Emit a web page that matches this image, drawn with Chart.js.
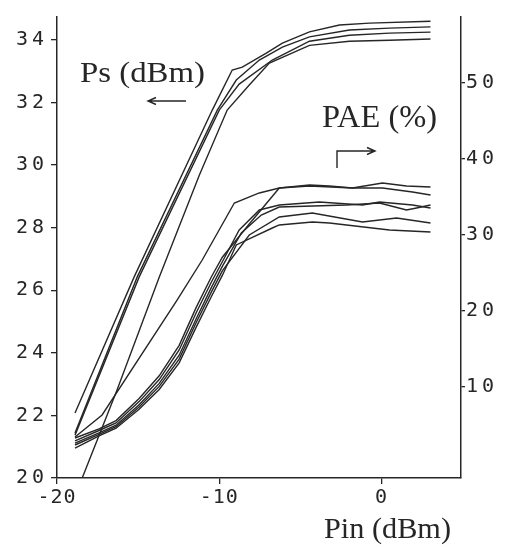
<!DOCTYPE html>
<html><head><meta charset="utf-8">
<script src="https://cdn.jsdelivr.net/npm/chart.js@4.4.1/dist/chart.umd.min.js"></script>
<style>html,body{margin:0;padding:0;background:#fff}</style>
</head><body>
<canvas id="c" width="508" height="552"></canvas>
<script>
// ---- axis ticks ----
const pinTicks = [-20, -10, 0];
const psTicks = [20, 22, 24, 26, 28, 30, 32, 34];
const paeTicks = [10, 20, 30, 40, 50];

// ---- Ps (dBm) curves, left axis ----
const psA_pin = [-18.89, -15.25, -10.43, -9.2, -8.58, -7.1, -6.11, -4.44, -2.59, -0.74, 3.02];
const psA_out = [22.08, 26.42, 31.76, 33.04, 33.13, 33.58, 33.9, 34.26, 34.48, 34.54, 34.6];
const psB_pin = [-18.89, -15.06, -10.12, -8.95, -7.53, -6.11, -4.44, -1.98, 0.49, 3.02];
const psB_out = [21.44, 26.42, 31.76, 32.72, 33.36, 33.77, 34.1, 34.32, 34.38, 34.42];
const psC_pin = [-18.89, -16.3, -13.7, -11.23, -9.51, -8.15, -6.91, -4.44, -1.98, 0.49, 3.02];
const psC_out = [19.42, 22.81, 26.42, 29.68, 31.76, 32.56, 33.26, 33.83, 33.96, 33.99, 34.03];
const psD_pin = [-18.89, -14.94, -10.0, -8.77, -6.73, -4.44, -1.98, 0.49, 3.02];
const psD_out = [21.37, 26.42, 31.76, 32.59, 33.36, 33.96, 34.15, 34.22, 34.25];

// ---- PAE (%) curves, right axis ----
const pae1_pin = [-18.89, -17.22, -12.59, -11.05, -9.07, -7.53, -6.30, -4.44, -3.21, -1.79, 0.06, 1.54, 3.02];
const pae1_val = [3.34, 6.24, 21.37, 26.63, 34.13, 35.45, 36.11, 36.5, 36.37, 36.11, 36.76, 36.37, 36.24];
const pae2_pin = [-18.89, -17.41, -16.36, -14.94, -13.70, -12.47, -11.42, -10.49, -9.81, -8.15, -6.30, -4.44, -1.79, 0.06, 1.91, 3.02];
const pae2_val = [3.21, 4.4, 5.5, 8.4, 11.4, 15.4, 20.4, 24.4, 27.0, 31.37, 36.11, 36.37, 36.11, 36.11, 35.58, 35.18];
const pae3_pin = [-18.89, -17.41, -16.36, -14.94, -13.70, -12.47, -11.42, -10.49, -9.81, -8.77, -7.53, -6.30, -3.83, -1.17, -0.12, 1.91, 3.02];
const pae3_val = [2.82, 4.2, 5.2, 8.0, 10.9, 14.8, 19.7, 23.7, 26.4, 30.58, 33.21, 33.87, 34.26, 33.87, 34.26, 33.87, 33.47];
const pae4_pin = [-18.89, -17.41, -16.36, -14.94, -13.70, -12.47, -11.42, -10.49, -9.81, -8.64, -7.41, -6.30, -2.16, -0.12, 1.54, 2.16, 3.02];
const pae4_val = [2.55, 3.9, 4.9, 7.6, 10.4, 14.1, 18.9, 23.0, 25.8, 30.18, 32.55, 33.6, 33.87, 34.13, 33.21, 33.47, 33.87];
const pae5_pin = [-18.89, -17.41, -16.36, -14.94, -13.70, -12.47, -11.42, -10.49, -9.81, -8.15, -6.30, -4.26, -1.17, 0.93, 3.02];
const pae5_val = [2.29, 3.7, 4.7, 7.3, 10.0, 13.6, 18.4, 22.4, 25.2, 29.92, 32.29, 32.82, 31.63, 32.16, 31.5];
const pae6_pin = [-18.89, -17.41, -16.36, -14.94, -13.70, -12.47, -11.42, -10.49, -9.81, -8.95, -6.73, -6.30, -4.26, -3.21, 0.49, 3.02];
const pae6_val = [1.89, 3.5, 4.5, 7.0, 9.6, 13.1, 17.8, 21.8, 24.6, 28.61, 30.84, 31.24, 31.63, 31.5, 30.58, 30.32];

const INK = '#262626';
const pairs = (xs, ys) => xs.map((x, i) => ({x: x, y: ys[i]}));
function ds(label, xs, ys, axis) {
  return {label: label, data: pairs(xs, ys), yAxisID: axis, borderColor: INK, borderWidth: 1.4,
          pointRadius: 0, tension: 0, fill: false};
}

const datasets = [
  ds('Ps A', psA_pin, psA_out, 'yPs'),
  ds('Ps B', psB_pin, psB_out, 'yPs'),
  ds('Ps C', psC_pin, psC_out, 'yPs'),
  ds('Ps D', psD_pin, psD_out, 'yPs'),
  ds('PAE 1', pae1_pin, pae1_val, 'yPae'),
  ds('PAE 2', pae2_pin, pae2_val, 'yPae'),
  ds('PAE 3', pae3_pin, pae3_val, 'yPae'),
  ds('PAE 4', pae4_pin, pae4_val, 'yPae'),
  ds('PAE 5', pae5_pin, pae5_val, 'yPae'),
  ds('PAE 6', pae6_pin, pae6_val, 'yPae')
];

const tickFont = {family: '"DejaVu Sans Mono", monospace', size: 20};
const gridOpts = {display: true, drawOnChartArea: false, drawTicks: true, color: INK, lineWidth: 1.3};

// per-axis letter spacing for the typewriter-like tick labels
const spacing = {
  id: 'spacing',
  afterUpdate(chart) {
    Object.keys(chart.scales).forEach(id => {
      const s = chart.scales[id];
      if (s._lsPatched) return;
      const orig = s.drawLabels;
      const sp = id === 'x' ? '1px' : '4px';
      s.drawLabels = function (a) {
        const c = this.ctx;
        const prev = c.letterSpacing;
        c.letterSpacing = sp;
        orig.call(this, a);
        c.letterSpacing = prev || '0px';
      };
      s._lsPatched = true;
    });
  }
};

const notes = {
  id: 'notes',
  afterDraw(chart) {
    const ctx = chart.ctx;
    ctx.save();
    ctx.letterSpacing = '0px';
    ctx.fillStyle = INK;
    ctx.strokeStyle = INK;
    function label(text, x, base, size, width) {
      ctx.font = size + 'px "Liberation Serif", "DejaVu Serif", serif';
      const w = ctx.measureText(text).width;
      ctx.save();
      ctx.translate(x, base);
      ctx.scale(width / w, 1);
      ctx.textAlign = 'left';
      ctx.textBaseline = 'alphabetic';
      ctx.fillText(text, 0, 0);
      ctx.restore();
    }
    label('Ps (dBm)', 80, 82, 29, 125);
    label('PAE (%)', 322, 127, 32, 115);
    label('Pin (dBm)', 324, 538, 30, 127);
    ctx.lineWidth = 1.4;
    // left arrow under Ps
    ctx.beginPath();
    ctx.moveTo(186, 101); ctx.lineTo(148, 101);
    ctx.moveTo(156, 97.5); ctx.lineTo(148, 101); ctx.lineTo(156, 104.5);
    ctx.stroke();
    // bent arrow under PAE
    ctx.beginPath();
    ctx.moveTo(337, 168); ctx.lineTo(337, 151); ctx.lineTo(375, 151);
    ctx.moveTo(367, 147.5); ctx.lineTo(375, 151); ctx.lineTo(367, 154.5);
    ctx.stroke();
    ctx.restore();
  }
};

new Chart(document.getElementById('c'), {
  type: 'line',
  data: {datasets: datasets},
  plugins: [spacing, notes],
  options: {
    responsive: false,
    animation: false,
    events: [],
    layout: {padding: {top: 17, left: 0, right: 0, bottom: 0}},
    plugins: {legend: {display: false}, tooltip: {enabled: false}, title: {display: false}},
    scales: {
      x: {
        type: 'linear', position: 'bottom', min: -20, max: 4.9,
        grid: Object.assign({}, gridOpts, {tickLength: 6}),
        border: {display: true, color: INK, width: 1.5},
        ticks: {font: tickFont, color: INK, padding: 2, maxRotation: 0, autoSkip: false},
        afterBuildTicks: s => { s.ticks = pinTicks.map(v => ({value: v})); },
        afterFit: s => { s.height = 74; }
      },
      yPs: {
        type: 'linear', position: 'left', min: 20, max: 34.735,
        grid: Object.assign({}, gridOpts, {tickLength: 6}),
        border: {display: true, color: INK, width: 1.5},
        ticks: {font: tickFont, color: INK, padding: 3, autoSkip: false},
        afterBuildTicks: s => { s.ticks = psTicks.map(v => ({value: v})); },
        afterFit: s => { s.width = 57; }
      },
      yPae: {
        type: 'linear', position: 'right', min: -2.05, max: 58.6,
        grid: Object.assign({}, gridOpts, {tickLength: 4}),
        border: {display: true, color: INK, width: 1.5},
        ticks: {font: tickFont, color: INK, padding: 1, autoSkip: false},
        afterBuildTicks: s => { s.ticks = paeTicks.map(v => ({value: v})); },
        afterFit: s => { s.width = 47; }
      }
    }
  }
});
</script>
</body></html>
